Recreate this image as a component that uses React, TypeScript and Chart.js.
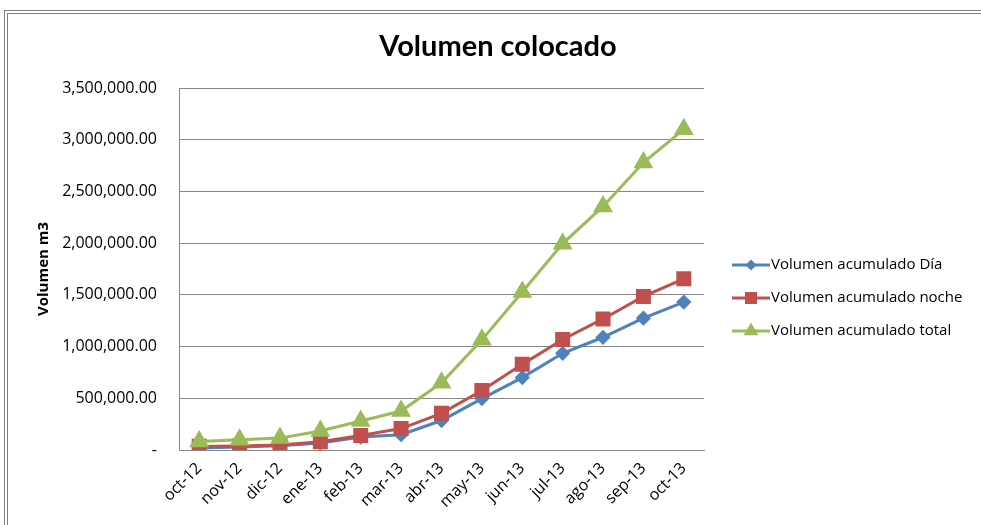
import React, { useEffect, useRef } from "react";
import { Chart, registerables } from "chart.js";

Chart.register(...registerables);

const categories = ["oct-12", "nov-12", "dic-12", "ene-13", "feb-13", "mar-13", "abr-13", "may-13", "jun-13", "jul-13", "ago-13", "sep-13", "oct-13"];
const volumenDia = [20000, 30000, 42000, 68000, 125000, 148000, 285000, 497000, 700000, 935000, 1090000, 1275000, 1430000];
const volumenNoche = [35000, 38000, 48000, 80000, 140000, 207000, 355000, 575000, 828000, 1068000, 1267000, 1485000, 1655000];
const volumenTotal = [82000, 98000, 115000, 183000, 280000, 377000, 650000, 1065000, 1527000, 1995000, 2355000, 2780000, 3100000];
const seriesNames = ["Volumen acumulado Día", "Volumen acumulado noche", "Volumen acumulado total"];
const yTicks = [0, 500000, 1000000, 1500000, 2000000, 2500000, 3000000, 3500000];
const chartTitle = "Volumen colocado";
const yTitle = "Volumen m3";

const BLUE = "#4F81BD";
const RED = "#C0504D";
const GREEN = "#9BBB59";
const FONT = "'Open Sans', 'Noto Sans', sans-serif";

function drawMarker(ctx: CanvasRenderingContext2D, style: string, x: number, y: number, r: number) {
  ctx.beginPath();
  if (style === "rectRot") {
    ctx.moveTo(x, y - r);
    ctx.lineTo(x + r, y);
    ctx.lineTo(x, y + r);
    ctx.lineTo(x - r, y);
  } else if (style === "rect") {
    const s = Math.SQRT1_2 * r;
    ctx.rect(x - s, y - s, 2 * s, 2 * s);
  } else {
    ctx.moveTo(x, y - r);
    ctx.lineTo(x + r * Math.sin(Math.PI / 3), y + r / 2);
    ctx.lineTo(x - r * Math.sin(Math.PI / 3), y + r / 2);
  }
  ctx.closePath();
  ctx.fill();
}

const decorPlugin = {
  id: "decor",
  beforeDraw(chart: any) {
    const ctx = chart.ctx as CanvasRenderingContext2D;
    ctx.save();
    ctx.fillStyle = "#ffffff";
    ctx.fillRect(0, 0, chart.width, chart.height);
    ctx.strokeStyle = "#7f7f7f";
    ctx.lineWidth = 1;
    ctx.strokeRect(4.5, 10.5, 1200, 800);
    ctx.strokeRect(7.5, 13.5, 1200, 800);
    ctx.restore();
  },
  afterDraw(chart: any) {
    const ctx = chart.ctx as CanvasRenderingContext2D;
    ctx.save();
    ctx.fillStyle = "#000";
    ctx.font = "bold 29px Lato, sans-serif";
    ctx.textAlign = "center";
    ctx.textBaseline = "alphabetic";
    ctx.fillText(chartTitle, 498, 56);
    const ys = [265, 298, 331];
    chart.data.datasets.forEach((ds: any, i: number) => {
      const y = ys[i];
      ctx.strokeStyle = ds.borderColor;
      ctx.lineWidth = 3;
      ctx.beginPath();
      ctx.moveTo(732, y);
      ctx.lineTo(770, y);
      ctx.stroke();
      ctx.fillStyle = ds.pointBackgroundColor;
      drawMarker(ctx, ds.pointStyle, 751, y, ds.pointRadius);
      ctx.fillStyle = "#000";
      ctx.font = `15px ${FONT}`;
      ctx.textAlign = "left";
      ctx.textBaseline = "middle";
      ctx.fillText(ds.label, 771, y);
    });
    ctx.restore();
  },
};

export default function App() {
  const ref = useRef<HTMLCanvasElement | null>(null);
  useEffect(() => {
    if (!ref.current) return;
    const chart = new Chart(ref.current, {
      type: "line",
      data: {
        labels: categories,
        datasets: [
          {
            label: seriesNames[0],
            data: volumenDia,
            borderColor: BLUE,
            backgroundColor: BLUE,
            pointBackgroundColor: BLUE,
            pointBorderColor: BLUE,
            pointStyle: "rectRot",
            pointRadius: 5.5,
            borderWidth: 3,
            order: 3,
          },
          {
            label: seriesNames[1],
            data: volumenNoche,
            borderColor: RED,
            backgroundColor: RED,
            pointBackgroundColor: RED,
            pointBorderColor: RED,
            pointStyle: "rect",
            pointRadius: 8.5,
            borderWidth: 3,
            order: 2,
          },
          {
            label: seriesNames[2],
            data: volumenTotal,
            borderColor: GREEN,
            backgroundColor: GREEN,
            pointBackgroundColor: GREEN,
            pointBorderColor: GREEN,
            pointStyle: "triangle",
            pointRadius: 8.5,
            borderWidth: 3,
            order: 1,
          },
        ] as any,
      },
      options: {
        responsive: false,
        animation: false,
        layout: { padding: { left: 0, top: 88, right: 277, bottom: 0 } },
        plugins: { legend: { display: false }, title: { display: false }, tooltip: { enabled: false } },
        scales: {
          x: {
            offset: true,
            grid: { display: false, drawTicks: false },
            border: { display: true, color: "#868686", width: 1 },
            ticks: {
              color: "#000",
              font: { family: FONT, size: 16 },
              minRotation: 45,
              maxRotation: 45,
              padding: 9,
              autoSkip: false,
            },
            afterFit: (s: any) => {
              s.height = 75;
            },
          },
          y: {
            min: 0,
            max: 3500000,
            afterBuildTicks: (s: any) => {
              s.ticks = yTicks.map((v) => ({ value: v }));
            },
            grid: { color: "#868686", lineWidth: 1, drawTicks: false },
            border: { display: true, color: "#868686", width: 1 },
            ticks: {
              color: "#000",
              font: { family: FONT, size: 16 },
              padding: 22,
              callback: (v: any) =>
                Number(v) === 0
                  ? "-"
                  : Number(v).toLocaleString("en-US", { minimumFractionDigits: 2, maximumFractionDigits: 2 }),
            },
            title: {
              display: true,
              text: yTitle,
              color: "#000",
              font: { family: FONT, size: 15, weight: "bold" },
              padding: { top: 35, bottom: 0 },
            },
            afterFit: (s: any) => {
              s.width = 179;
            },
          },
        },
      },
      plugins: [decorPlugin],
    });
    return () => chart.destroy();
  }, []);
  return (
    <div style={{ position: "absolute", left: 0, top: 0, width: 981, height: 525, background: "#fff" }}>
      <canvas ref={ref} width={981} height={525} style={{ display: "block" }} />
    </div>
  );
}
